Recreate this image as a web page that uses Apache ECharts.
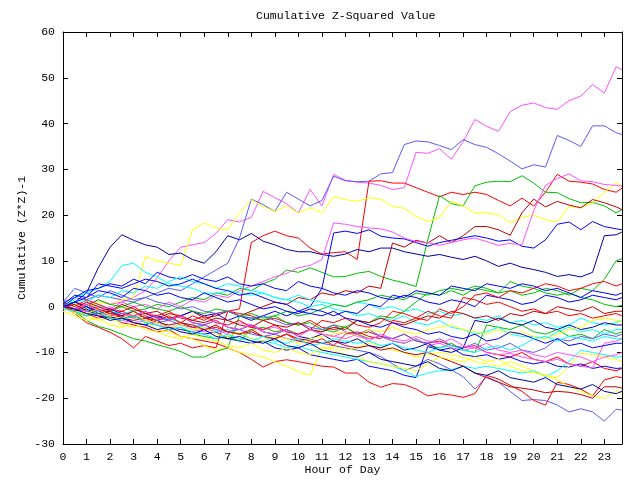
<!DOCTYPE html>
<html>
<head>
<meta charset="utf-8">
<script src="https://cdn.jsdelivr.net/npm/echarts@6/dist/echarts.min.js"></script>
<style>html,body{margin:0;padding:0;background:#fff}#c{width:640px;height:480px}</style>
</head>
<body>
<div id="c"></div>
<script>
const HOURS = [0,0.5,1,1.5,2,2.5,3,3.5,4,4.5,5,5.5,6,6.5,7,7.5,8,8.5,9,9.5,10,10.5,11,11.5,12,12.5,13,13.5,14,14.5,15,15.5,16,16.5,17,17.5,18,18.5,19,19.5,20,20.5,21,21.5,22,22.5,23,23.5,23.75];

const s01 = [0,-0.5,-1,0,-0.5,1,2,3.5,6.3,10,13,13.5,14,16,19,18.5,19.5,25.2,23.8,22.5,20.5,25.6,22,28.9,27.6,27.2,27,26.5,25.6,26,33.7,33.5,34.5,32.2,36,40.9,39.4,38.3,42.6,44,44.5,43.5,43.1,45,46,48.5,46.7,52.4,51.8];
const s02 = [1,2,1.5,2.5,2,1.5,1,2,3,4,3.5,5,6.5,8,9.5,15,23.5,22.3,20.8,25,23.5,22,23.2,28.5,27.5,27.3,27.4,29,29.3,35.4,36.2,36,35.2,34.3,36.5,35.4,34.8,33.4,31.8,30.1,31,30.5,37.4,36.3,35,39.5,39.5,38,37.6];
const s03 = [0,0.5,-1,-0.5,-2,-1.5,-2.5,-2,-3,-2.5,-3.5,-2,-3,-1.5,-1,-0.5,14,15.5,16.5,15.5,15,12.8,11.5,11.8,12,10.3,27.4,27.5,27,27,26,25,24,25,24.5,25,24.5,23.2,22,23.7,22,25,28.9,27.4,27.2,26.8,25.6,25,25.9];
const s04 = [0,-1,-0.5,-1.5,-1,0,-1,-0.5,0.5,0,1,2,1.5,3,2.5,4,3.5,5,6,8,7.5,8.5,7.5,6.5,6.6,7.3,7.7,6.6,5.8,5.2,4.4,14.6,24.3,22.5,22,26.4,27.2,27.4,27.3,28.6,27,25,24.9,23.6,22.7,22.8,22,20.5,21.2];
const s05 = [0,0.5,-0.5,1,0.5,1.5,2,11,10,9.5,9,16.8,18.3,17.2,16.8,20.5,23.4,21.9,20.8,22,20.5,21.6,20.5,24,23.4,23,23.8,23.5,21.9,21.5,19.7,18.6,19.5,23,22,20.5,20.5,20.1,18.3,19.5,20,19,18.5,21.9,21.6,22.7,25,27,26.3];
const s06 = [0,-0.5,0.5,-1,-1.5,-1,-2,-1.5,-2.5,-1.5,-2,-1,-2.5,-2,-1,-2,-1,0,1,0.5,2,1.5,3,2.5,3.5,3,4.5,4,13.9,13,14.5,13.9,15.5,14,15.5,17.5,17.5,16.8,15.6,20.5,23.5,21.8,23,22.2,21.6,23.4,22.7,21.8,21.2];
const s07 = [0,1,3,8.5,13,15.7,14.5,13.5,13,11.4,11.7,10.3,9.5,12,15.5,14.6,16,14.3,13.5,12.5,12,12,11.4,11,11.5,12.5,12,12.8,12.8,12,11.5,11,11.4,10.8,10.3,11,10,8.8,9.5,8.6,8.1,7.5,6.6,7,6.5,7.5,15.5,15.7,16.3];
const s08 = [0,-1,0,-1.5,-1,-2,-1,-2.5,-2,-3,-2,-1,-2,-1.5,-3,-2,-3,-2,-1,-2,-1,0,4,16.1,16.5,16,16.8,15.4,15,14.8,14,13.2,14,14.5,15,15.5,15,14.3,14.6,13.2,12.8,14.6,18,18.5,16.8,18.6,17.5,17,16.8];
const s09 = [0,1,0.5,1.5,0.5,1,0,0.5,-0.5,1,0,1.5,1,2.5,2,3.5,4.5,5.5,6.5,7.3,8.5,9,10.3,18.3,18,17.5,17.2,17,16.3,15,14.2,14,13.4,14,14.6,15,14.2,13.4,13.8,13.5,21,26.5,28,29,27.5,27.3,26.7,26.5,26.3];
const s10 = [0,2,3,4,5.5,9,9.5,7.5,6.5,5,4.5,4,3,2.8,3.5,3,2.5,3,2,1.5,2.5,1.5,1,0.5,0,1,0.5,-0.5,0,-1,-0.5,-1.5,-1,-2,-1.5,-2.5,-3,-2,-3.5,-3,-4,-3.5,-4.5,-4,-2.5,-3.5,-4,-3.5,-3];
const s11 = [0,-0.5,-1.5,-1,-2,-2.5,-2,-3,-3.5,-3,-4,-4.5,-4,-5,-5.5,-5,-6,-6.5,-6,-7,-7.5,-7,-8,-8.5,-9,-9.5,-10,-10.9,-12.5,-14,-13,-11.5,-12.5,-13.8,-15.3,-18,-15.3,-16.5,-18.5,-20.5,-20.3,-20.5,-21.5,-23,-22.3,-23,-25,-22.4,-22.6];
const s12 = [0,-1.5,-3.5,-4.5,-5.6,-7,-9,-6.5,-7.5,-8.5,-8,-9,-8.5,-9,-1,-1.5,-2,-3,-2.5,-3.5,-4,-3,-4.5,-5,-4.5,-6,-5.5,-6.5,-7,-6,-7.5,-8,-7.5,-8.5,-9,-8.5,-10,-10.5,-11,-10,-11.5,-12,-11,-12.5,-13,-12,-13.5,-14,-13.5];
const s13 = [0,-1,-1.5,-2.5,-2,-3.5,-4,-4.5,-5.5,-5,-6.5,-7,-7.5,-8,-9,-10,-11.5,-13.2,-12,-11.6,-12,-12.5,-13,-13.2,-14.5,-14.5,-16.5,-17.6,-16.8,-17,-18,-19.5,-19,-19.3,-19.8,-19,-15,-15.8,-17.2,-18.5,-20.5,-21.5,-16.5,-17,-18,-19.5,-16,-15.3,-15.5];
const s14 = [0,-1.5,-2,-3,-2.5,-4,-4.5,-3.5,-5,-5.5,-6.5,-7,-8.5,-9.5,-9,-10,-10.5,-11,-12,-13,-14.2,-15,-9,-8.7,-9.5,-9,-8,-8.5,-9.5,-10,-11,-10.5,-10,-10.5,-11,-12,-12.5,-13,-12,-13,-14,-15,-16,-17.5,-18.5,-19.5,-20,-18.5,-18.8];
const s15 = [0.5,1,0,1.5,0.5,0,1,0,-0.5,-1,0,-1,-1.5,-0.5,-1,-2,-1.5,-2.5,-2,-1,-2,-1.5,-0.5,0.5,0,1,1.5,2.5,2,1.5,3,2.5,3.5,4,3.5,4.5,4,3,3.5,2.5,3,4,3.5,2.5,4,3.5,6,10,10.5];
const s16 = [0,-1,-0.5,-2,-2.5,-2,-3.5,-4,-3,-4.5,-5,-5.5,-6,-5.5,-7,-7.5,-8,-7.5,-9,-9.5,-9,-10.5,-11,-11.5,-12,-11.5,-13,-13.5,-14,-15,-15.5,-8.7,-9.5,-9,-10.5,-10.9,-10.5,-11.5,-11,-12,-12.5,-12,-13,-13.2,-12.5,-13.5,-13,-13.5,-13.4];
const s17 = [1,0,-1,0.5,-1,-1.5,-1,-2.5,-3,-2.5,-3.5,-4,-4.5,-5.5,-5,-6,-7,-7.5,-8,-9,-8.5,-9.5,-10,-10.5,-11,-11.5,-12,-12.5,-13,-14,-15.3,-14.5,-14,-13.8,-13,-13.5,-13,-13.5,-14,-14.5,-14,-15.3,-14,-12,-9.5,-10,-10.5,-11,-10.9];
const s18 = [0,0.5,-1,-1.5,-1,-2.5,-3,-2.5,-3.5,-4,-3.5,-4.5,-5,-4,-5.5,-6,-5.5,-6.5,-7,-6,-7,-7.5,-8,-7.5,-8.5,-9,-8.5,-9.5,-9,-10,-10.5,-10,-11,-12,-13,-14.5,-15.5,-16.5,-17.5,-17.8,-18.2,-18.8,-18.5,-18.7,-19.2,-20,-17.5,-17.5,-17.8];
const s19 = [0,-1,-2,-1.5,-2.5,-3,-2,-3.5,-4,-5,-4.5,-6,-6.5,-7,-6.5,-7.5,-5,-4.5,-5.5,-5,-6,-5,-5.5,-4,-4.5,-3,-3.5,-2,-2.5,-1,1,3,2.5,3.5,2.5,4,3.5,3,5.5,4.5,4,3,2.5,3,2,1.5,0.5,0,0.3];
const s20 = [0,-1,-3,-4.3,-5,-6,-7,-7.5,-8.3,-9,-9.8,-11,-11,-9.8,-9,-2,-2.5,-3,-2,-3.5,-4,-3.5,-5,-5.5,-4.5,-6,-7,-6.5,-7.5,-8,-7,-8.5,-9,-8,-9.5,-10,-4,-4.5,-5,-4,-5.5,-6,-5,-6.5,-6,-7,-5,-6,-5.5];
const s21 = [-1,-2,-3,-2.5,-4,-4.5,-3.5,-5,-5.5,-6.5,-7,-6,-7,-7.5,-8.5,-9,-8,-9.5,-10,-9,-10,-10.5,-9,-9.5,-10.5,-11,-12,-12.5,-13,-13.5,-14,-12.5,-11,-11.5,-12,-11,-12,-11.5,-13,-14,-14.5,-15,-15.5,-13,-10.2,-10.5,-11,-11.5,-12];
const s22 = [0.5,-0.5,-1,-2,-1.5,-3,-3.5,-3,-4,-4.5,-4,-5,-5.5,-5,-6,-3.5,-4,-5,-4.5,-5.5,-6,-5,-6,-6.5,-5.5,-6.5,-7,-6.5,-7.5,-8,-7,-8.5,-8,-9,-9.5,-9,-10,-10.5,-10.2,-11,-11.5,-12,-11.5,-12.5,-13,-13.4,-8,-7.5,-7];
const s23 = [0,1,0,-1,-0.5,-1.5,-2,-1,-2.5,-3,-2,-3.5,-4,-3,-4.5,-5,-4,-5.5,-6,-5,-6.5,-7,-6,-7.5,-8,-7,-8.5,-9,-8,-9.5,-9,-8,-9.5,-10,-9,-3,-3.5,-2.5,-3.5,-4,-3,-4.5,-5,-4,-5,-4.5,-3.5,-4,-4];
const s24 = [1,0,1.5,0.5,-0.5,-1,0,-1.5,-2,-1,-2.5,-3,-2,-3.5,-4,-3,-4.5,-5,-4,-5.5,-6,-5,-3,-3.5,-2.5,-4,-4.5,-3.5,-1,-1.5,-2.5,-1,-2,-2.5,2,1.5,0.5,1,0,-1,-0.5,-1.5,-1,-2,-1.5,-2.5,-2,-1.5,-2];
const s25 = [1,4,3,2,3.5,2.5,1.5,2,1,0.5,-0.5,0,-1,-1.5,-1,-2,-2.5,-2,-3,-4,-3.5,-4.5,-5,-4,-5.5,-6,-5,-6.5,-7,-6,-7.5,-8,-7,-8.5,-9,-8,-9.5,-9,-8,-9.5,-10,-9,-7,-7.5,-6.5,-7,-6,-6.5,-6];
const s26 = [0,2,3.5,4,5,4.5,6,5,7.5,6.5,6,7,6,5.5,6.5,5,4.5,5,4,3.5,5.5,4.5,4,3,2.5,3.5,3,2,1.5,2.5,2,1,0.5,1.5,1,0,2.5,2,1.5,0.5,1,2.5,2,1,1.5,2.5,2,1.5,2];
const s27 = [0,1.5,1,2.5,2,3.5,3,4.5,4,5.5,6.5,5.5,5,4,5,4.5,3.5,3,2,1.5,1,0,0.5,-0.5,-1,-2,-1.5,-2.5,-3,-2,-3.5,-4,-3,-4.5,-5,-6,-5.5,-4.5,-6,-6.5,-6.5,-7,-5.5,-4.5,-5.5,-5,-6,-5,-5];
const s28 = [0.5,-0.5,1,0,-1,0.5,-0.5,-1.5,-1,-2.5,-2,-3,-3.5,-2.5,-3,-4,-4.5,-3,-4,-4.5,-3.5,-5,-5.5,-4.5,-5,-3,-3.5,-2.5,-3.5,-4,-3,-2,-2.5,-1,-1.5,-2.5,-2,-3,-1.5,-2,-1,-1.5,0,-0.5,-1,0,-1.5,-1,-1];
const s29 = [0,-1,-1.5,-0.5,-2,-2.5,-1.5,-3,-3.5,-4.5,-4,-5,-4.5,-6,-6.5,-5.5,-7,-7.5,-6.5,-7,-8,-7,-6.5,-6,-5.5,-6.5,-5,-5.5,-4.5,-5.5,-6,-5,-4.5,-4,-5,-5.5,-6,-5,-6,-5.5,-6.5,-7,-6,-5,-4.5,-3,-2.5,-3,-3];
const s30 = [0,1,2,5,4.5,4,5,6,5.5,4.5,5,6,5,4,3.5,2.5,3,2,1,0.5,-1,-1.5,-2,-1,-2.5,-3,-4,-4.5,-3.5,-4.5,-5,-6,-5.5,-6.5,-7,-6,-7.5,-7,-5.5,-6,-7,-8,-7,-8.5,-8,-9,-8.5,-8,-8];
const s31 = [0,-1,0.5,-0.5,-1.5,-2,-1,-2.5,-3,-2,-3.5,-4,-5,-4.5,-5.5,-6,-5,-6.5,-7,-6,-7.5,-8,-7,-8.5,-6,-5.5,-6.5,-7,-3,-3.5,-2.5,-3,-0.5,-1.5,0,2.5,3,2,3.5,3,4,5,4.5,3.5,4,5,5.5,4.5,5];
const s32 = [0,-0.5,0.5,-1,0,-1.5,-2,-1,-2.5,-3,-2,-3.5,-4,-3,-4.5,-5,-4,-5.5,-6,-5,-6.5,-5,-6,-6.5,-7,-6,-7.5,-6,-7,-7.5,-6.5,-7.5,-8,-7,-8.5,-9,-8,-9.5,-10,-9.5,-10.5,-11,-10,-10.5,-11,-12,-11,-10.5,-10];
const s33 = [-0.5,-1,-2,-1,-2.5,-3,-2,-3.5,-4,-5,-4.5,-5.5,-6,-7,-6,-7,-7.5,-6.5,-7.5,-8,-7,-8.5,-8,-7,-7.5,-8,-7.5,-8.5,-8,-9,-9.5,-10,-9,-8.5,-9.5,-10,-9,-8.5,-9.5,-8.5,-7,-6.5,-7.5,-6.5,-7,-7.5,-6.5,-7,-7];
const s34 = [0,-0.5,-1.5,-2,-3,-2.5,-3.5,-4,-5,-4.5,-5.5,-6,-5,-6.5,-7,-6.5,-7.5,-8,-7,-8.5,-9,-8,-9.5,-10,-10.5,-11,-10,-11.5,-12,-12.5,-13,-12,-13.5,-14,-13,-14.5,-15,-14,-15.5,-16,-16.5,-15.5,-17,-17.5,-18,-17,-18.5,-19,-18.5];
const s35 = [0.5,2.5,2,3.5,3,2,4,3.5,2.5,3,2,1.5,3,2,1,1.5,0.5,-0.5,0,-1,-1.5,-0.5,-1,-2,-1,-1.5,0.5,0,2.5,2,3.5,3,2.5,4.5,4,3.5,5,4.5,4,5,4.5,3.5,4,3,2,3.5,3,2.5,3];

const SERIES_VALUES = [s01,s02,s03,s04,s05,s06,s07,s08,s09,s10,s11,s12,s13,s14,s15,s16,s17,s18,s19,s20,s21,s22,s23,s24,s25,s26,s27,s28,s29,s30,s31,s32,s33,s34,s35];
const SERIES_COLORS = ['m','p','r','g','y','dr','db','b','m','c','p','r','r','y','g','b','c','dr','g','g','y','m','db','r','p','b','c','dr','y','b','r','m','c','db','b'];
const PALETTE = {r:'#ff0000', g:'#00c000', b:'#0000ff', m:'#ff50ff', c:'#00ffff', y:'#ffff00', dr:'#c00000', db:'#0000a8', p:'#5a5aff'};

const X_TICKS = [0,1,2,3,4,5,6,7,8,9,10,11,12,13,14,15,16,17,18,19,20,21,22,23];
const Y_TICKS = [-30,-20,-10,0,10,20,30,40,50,60];

const FONT = 'Liberation Mono';
const chart = echarts.init(document.getElementById('c'), null, {renderer: 'canvas'});

function axisBase() {
  return {
    axisLine: {show: true, onZero: false, lineStyle: {color: '#000', width: 1}},
    axisTick: {show: true, inside: true, length: 5, lineStyle: {color: '#000', width: 1}},
    splitLine: {show: false}
  };
}

const series = SERIES_VALUES.map((vals, i) => ({
  type: 'line',
  data: vals.map((v, j) => [HOURS[j], v]),
  showSymbol: false,
  symbol: 'none',
  lineStyle: {width: 1, color: PALETTE[SERIES_COLORS[i]]},
  itemStyle: {color: PALETTE[SERIES_COLORS[i]]},
  emphasis: {disabled: true},
  silent: true,
  animation: false,
  xAxisIndex: 0,
  yAxisIndex: 0
}));

chart.setOption({
  animation: false,
  backgroundColor: '#fff',
  title: {
    text: 'Cumulative Z-Squared Value',
    left: 251, top: 5,
    textStyle: {fontFamily: FONT, fontSize: 11.5, fontWeight: 'normal', color: '#000'}
  },
  grid: {left: 63, right: 18, top: 32, bottom: 36, containLabel: false, outerBoundsMode: 'none'},
  xAxis: [
    Object.assign(axisBase(), {
      type: 'value', min: X_TICKS[0], max: 23.75, interval: 1, position: 'bottom',
      name: 'Hour of Day', nameLocation: 'middle', nameGap: 20, nameMoveOverlap: false,
      nameTextStyle: {fontFamily: FONT, fontSize: 11.5, color: '#000'},
      axisLabel: {color: '#000', fontFamily: FONT, fontSize: 11.5, margin: 7, showMaxLabel: false,
        formatter: v => (X_TICKS.indexOf(v) >= 0 ? String(v) : '')}
    }),
    Object.assign(axisBase(), {
      type: 'value', min: X_TICKS[0], max: 23.75, interval: 1, position: 'top',
      axisLabel: {show: false}
    })
  ],
  yAxis: [
    Object.assign(axisBase(), {
      type: 'value', min: Y_TICKS[0], max: Y_TICKS[Y_TICKS.length - 1], interval: 10, position: 'left',
      name: 'Cumulative (Z*Z)-1', nameLocation: 'middle', nameRotate: 90, nameGap: 35, nameMoveOverlap: false,
      nameTextStyle: {fontFamily: FONT, fontSize: 11.5, color: '#000'},
      axisLabel: {color: '#000', fontFamily: FONT, fontSize: 11.5, margin: 8}
    }),
    Object.assign(axisBase(), {
      type: 'value', min: Y_TICKS[0], max: Y_TICKS[Y_TICKS.length - 1], interval: 10, position: 'right',
      axisLabel: {show: false}
    })
  ],
  series: series
});
</script>
</body>
</html>
